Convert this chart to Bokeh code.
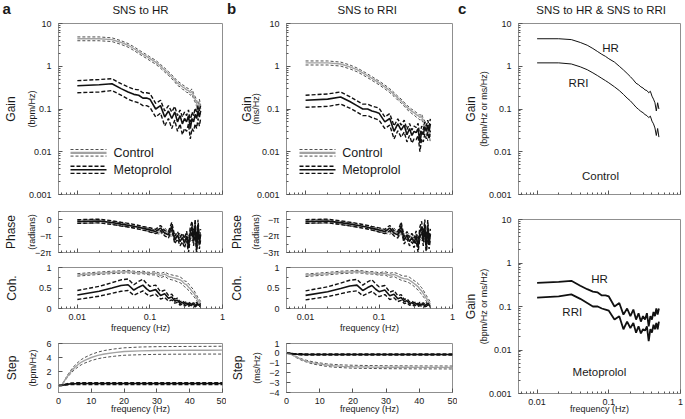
import math
from bokeh.plotting import figure
from bokeh.layouts import row, column
from bokeh.models import (Range1d, FixedTicker, Label, Arrow, ColumnDataSource,
                          LinearAxis)
from bokeh.embed import file_html
from bokeh.resources import INLINE

FONT = "Liberation Sans"
TXT = "#1a1a1a"
FRAME_C = "#8f8f8f"
TICK_C = "#555555"
PI = math.pi

# ---------------- data ----------------
FREQ = [0.01, 0.02, 0.03, 0.04, 0.05, 0.06, 0.07, 0.08, 0.09, 0.10,
        0.12, 0.14, 0.16, 0.18, 0.20, 0.22, 0.24, 0.26, 0.28, 0.30,
        0.32, 0.34, 0.36, 0.38, 0.40, 0.42, 0.44, 0.46, 0.48, 0.50]

HR_GAIN_CTRL = [4.4, 4.4, 4.2, 3.6, 3.1, 2.6, 2.2, 1.9, 1.7, 1.5,
                1.25, 1.0, 0.82, 0.68, 0.57, 0.48, 0.40, 0.37, 0.33, 0.31,
                0.28, 0.27, 0.24, 0.26, 0.20, 0.17, 0.14, 0.09, 0.14, 0.10]
HR_GAIN_CTRL_SE = [0.45, 0.45, 0.42, 0.36, 0.30, 0.26, 0.22, 0.19, 0.17, 0.15,
                   0.13, 0.10, 0.09, 0.07, 0.06, 0.05, 0.045, 0.04, 0.04, 0.035,
                   0.035, 0.03, 0.03, 0.035, 0.03, 0.025, 0.025, 0.02, 0.03, 0.025]
HR_GAIN_META = [0.35, 0.37, 0.39, 0.30, 0.25, 0.22, 0.21, 0.18, 0.18, 0.17,
                0.10, 0.12, 0.065, 0.09, 0.06, 0.085, 0.05, 0.07, 0.045, 0.06,
                0.05, 0.07, 0.035, 0.06, 0.05, 0.075, 0.06, 0.09, 0.065, 0.09]
HR_GAIN_META_SE = [0.11, 0.12, 0.12, 0.09, 0.08, 0.07, 0.07, 0.06, 0.06, 0.06,
                   0.035, 0.04, 0.025, 0.03, 0.025, 0.03, 0.02, 0.025, 0.02, 0.025,
                   0.02, 0.025, 0.015, 0.025, 0.02, 0.03, 0.025, 0.03, 0.025, 0.03]

RRI_GAIN_CTRL = [1.20, 1.20, 1.13, 0.97, 0.83, 0.70, 0.60, 0.52, 0.46, 0.41,
                 0.33, 0.27, 0.22, 0.18, 0.155, 0.13, 0.11, 0.098, 0.088, 0.082,
                 0.074, 0.070, 0.063, 0.068, 0.052, 0.045, 0.036, 0.024, 0.035, 0.022]
RRI_GAIN_CTRL_SE = [0.13, 0.13, 0.12, 0.10, 0.085, 0.07, 0.06, 0.052, 0.046, 0.041,
                    0.034, 0.028, 0.023, 0.019, 0.016, 0.014, 0.012, 0.011, 0.010, 0.010,
                    0.009, 0.009, 0.008, 0.009, 0.008, 0.007, 0.007, 0.006, 0.008, 0.006]
RRI_GAIN_META = [0.16, 0.17, 0.19, 0.15, 0.12, 0.10, 0.10, 0.09, 0.085, 0.08,
                 0.05, 0.06, 0.03, 0.045, 0.032, 0.042, 0.025, 0.035, 0.024, 0.03,
                 0.028, 0.035, 0.016, 0.03, 0.025, 0.038, 0.03, 0.042, 0.03, 0.045]
RRI_GAIN_META_SE = [0.05, 0.055, 0.06, 0.045, 0.035, 0.03, 0.03, 0.027, 0.026, 0.025,
                    0.015, 0.018, 0.010, 0.014, 0.010, 0.013, 0.008, 0.011, 0.008, 0.010,
                    0.009, 0.011, 0.006, 0.010, 0.008, 0.012, 0.010, 0.013, 0.010, 0.014]

HR_PHASE_CTRL = [-0.38, -0.30, -0.62, -0.90, -1.10, -1.30, -1.50, -1.70, -1.85, -2.0,
                 -2.3, -2.5, -1.9, -2.7, -2.9, -3.0, -3.2, -3.0, -3.3, -3.4,
                 -3.2, -3.5, -3.3, -3.6, -3.4, -3.7, -3.3, -3.8, -3.4, -3.6]
HR_PHASE_CTRL_SE = [0.30, 0.32, 0.30, 0.30, 0.30, 0.30, 0.30, 0.30, 0.30, 0.30,
                    0.30, 0.30, 0.35, 0.30, 0.30, 0.35, 0.35, 0.40, 0.35, 0.40,
                    0.40, 0.45, 0.40, 0.45, 0.40, 0.50, 0.45, 0.50, 0.50, 0.50]
HR_PHASE_META = [-0.35, -0.25, -0.55, -0.85, -1.05, -1.25, -1.45, -1.65, -1.8, -1.95,
                 -2.25, -1.6, -2.6, -2.9, -1.2, -3.9, -3.0, -4.2, -3.4, -4.5,
                 -3.1, -5.4, -2.4, -1.3, -4.0, -0.9, -5.8, -1.0, -4.6, -2.8]
HR_PHASE_META_SE = [0.35, 0.35, 0.35, 0.35, 0.35, 0.35, 0.35, 0.35, 0.35, 0.40,
                    0.40, 0.50, 0.50, 0.60, 0.70, 0.70, 0.70, 0.80, 0.80, 0.90,
                    0.90, 0.90, 1.00, 1.00, 1.00, 1.00, 0.90, 1.00, 1.00, 1.00]

RRI_PHASE_CTRL = [-3.52, -3.45, -3.78, -4.02, -4.25, -4.42, -4.62, -4.85, -5.0, -5.12,
                  -5.45, -5.62, -5.08, -5.85, -6.02, -6.12, -6.35, -6.18, -6.42, -6.55,
                  -6.32, -6.68, -6.45, -6.72, -6.58, -6.85, -6.45, -6.95, -6.52, -6.78]
RRI_PHASE_CTRL_SE = [0.30, 0.32, 0.30, 0.30, 0.30, 0.30, 0.30, 0.30, 0.30, 0.30,
                     0.30, 0.32, 0.35, 0.32, 0.30, 0.35, 0.38, 0.40, 0.38, 0.42,
                     0.40, 0.45, 0.42, 0.45, 0.42, 0.50, 0.45, 0.50, 0.48, 0.50]
RRI_PHASE_META = [-3.48, -3.38, -3.70, -3.98, -4.20, -4.40, -4.58, -4.80, -4.95, -5.10,
                  -5.40, -4.75, -5.75, -6.05, -4.30, -7.10, -6.10, -7.35, -6.55, -7.60,
                  -6.20, -8.50, -5.50, -4.45, -7.15, -4.10, -8.90, -4.20, -7.75, -5.90]
RRI_PHASE_META_SE = [0.35, 0.35, 0.35, 0.35, 0.35, 0.35, 0.35, 0.35, 0.35, 0.40,
                     0.40, 0.50, 0.50, 0.60, 0.70, 0.70, 0.70, 0.80, 0.80, 0.90,
                     0.90, 0.90, 1.00, 1.00, 1.00, 1.00, 0.90, 1.00, 1.00, 1.00]

HR_COH_CTRL = [0.82, 0.86, 0.88, 0.89, 0.90, 0.88, 0.87, 0.88, 0.86, 0.85,
               0.86, 0.80, 0.84, 0.78, 0.76, 0.74, 0.72, 0.70, 0.66, 0.60,
               0.58, 0.52, 0.48, 0.42, 0.38, 0.32, 0.26, 0.20, 0.16, 0.12]
HR_COH_CTRL_SE = [0.03, 0.03, 0.03, 0.03, 0.03, 0.03, 0.03, 0.03, 0.03, 0.03,
                  0.04, 0.05, 0.05, 0.06, 0.06, 0.06, 0.07, 0.07, 0.07, 0.07,
                  0.08, 0.08, 0.08, 0.08, 0.08, 0.07, 0.07, 0.06, 0.06, 0.05]
HR_COH_META = [0.33, 0.42, 0.50, 0.56, 0.58, 0.45, 0.52, 0.57, 0.48, 0.42,
               0.46, 0.32, 0.36, 0.25, 0.28, 0.18, 0.20, 0.12, 0.15, 0.10,
               0.13, 0.08, 0.12, 0.09, 0.10, 0.07, 0.11, 0.08, 0.10, 0.07]
HR_COH_META_SE = [0.11, 0.12, 0.13, 0.14, 0.14, 0.13, 0.14, 0.14, 0.13, 0.12,
                  0.11, 0.09, 0.09, 0.07, 0.07, 0.05, 0.05, 0.04, 0.04, 0.04,
                  0.04, 0.03, 0.04, 0.03, 0.04, 0.03, 0.04, 0.03, 0.04, 0.03]

RRI_COH_CTRL = [0.81, 0.85, 0.88, 0.89, 0.90, 0.89, 0.87, 0.87, 0.86, 0.84,
                0.86, 0.81, 0.83, 0.79, 0.75, 0.73, 0.72, 0.69, 0.65, 0.61,
                0.57, 0.53, 0.47, 0.43, 0.37, 0.31, 0.25, 0.20, 0.15, 0.11]
RRI_COH_CTRL_SE = [0.03, 0.03, 0.03, 0.03, 0.03, 0.03, 0.03, 0.03, 0.03, 0.03,
                   0.04, 0.05, 0.05, 0.06, 0.06, 0.06, 0.07, 0.07, 0.07, 0.07,
                   0.08, 0.08, 0.08, 0.08, 0.08, 0.07, 0.07, 0.06, 0.06, 0.05]
RRI_COH_META = [0.32, 0.41, 0.49, 0.55, 0.57, 0.44, 0.51, 0.56, 0.47, 0.41,
                0.45, 0.31, 0.35, 0.24, 0.27, 0.17, 0.19, 0.12, 0.14, 0.10,
                0.12, 0.08, 0.11, 0.09, 0.10, 0.07, 0.10, 0.08, 0.09, 0.07]
RRI_COH_META_SE = [0.11, 0.12, 0.13, 0.14, 0.14, 0.13, 0.14, 0.14, 0.13, 0.12,
                   0.11, 0.09, 0.09, 0.07, 0.07, 0.05, 0.05, 0.04, 0.04, 0.04,
                   0.04, 0.03, 0.04, 0.03, 0.04, 0.03, 0.04, 0.03, 0.04, 0.03]

STEP_T = [0, 1, 2, 3, 4, 5, 6, 7, 8, 10, 12, 14, 17, 20, 25, 30, 35, 40, 45, 50]
HR_STEP_CTRL = [0, 0.05, 0.8, 1.5, 2.1, 2.6, 3.0, 3.35, 3.6, 4.0,
                4.3, 4.5, 4.7, 4.85, 4.95, 5.0, 5.02, 5.03, 5.04, 5.05]
HR_STEP_CTRL_SE = [0, 0.01, 0.09, 0.17, 0.23, 0.29, 0.33, 0.37, 0.40, 0.44,
                   0.47, 0.50, 0.52, 0.53, 0.55, 0.55, 0.55, 0.55, 0.55, 0.56]
HR_STEP_META = [0, 0.02, 0.12, 0.20, 0.24, 0.26, 0.27, 0.28, 0.28, 0.28,
                0.28, 0.28, 0.28, 0.28, 0.28, 0.28, 0.28, 0.28, 0.28, 0.28]
HR_STEP_META_SE = [0, 0.01, 0.05, 0.09, 0.11, 0.12, 0.13, 0.13, 0.13, 0.13,
                   0.13, 0.13, 0.13, 0.13, 0.13, 0.13, 0.13, 0.13, 0.13, 0.13]
RRI_STEP_CTRL = [0, -0.02, -0.20, -0.40, -0.55, -0.70, -0.80, -0.90, -0.98, -1.10,
                 -1.20, -1.27, -1.33, -1.37, -1.40, -1.42, -1.43, -1.44, -1.44, -1.45]
RRI_STEP_CTRL_SE = [0, 0.01, 0.03, 0.05, 0.07, 0.08, 0.09, 0.10, 0.11, 0.12,
                    0.13, 0.14, 0.14, 0.15, 0.15, 0.15, 0.15, 0.15, 0.15, 0.15]
RRI_STEP_META = [0, -0.01, -0.05, -0.08, -0.10, -0.11, -0.12, -0.12, -0.12, -0.12,
                 -0.12, -0.12, -0.12, -0.12, -0.12, -0.12, -0.12, -0.12, -0.12, -0.12]
RRI_STEP_META_SE = [0, 0.01, 0.03, 0.05, 0.06, 0.06, 0.06, 0.06, 0.06, 0.06,
                    0.06, 0.06, 0.06, 0.06, 0.06, 0.06, 0.06, 0.06, 0.06, 0.06]

GAIN_TICKS = [0.001, 0.01, 0.1, 1, 10]
GAIN_TICK_LABELS = ["0.001", "0.01", "0.1", "1", "10"]
GAIN_MINOR = [m * 10.0 ** e for e in range(-3, 1) for m in range(2, 10)]
FREQ_TICKS = [0.01, 0.1, 1]
FREQ_TICK_LABELS = ["0.01", "0.1", "1"]
FREQ_MINOR = [m * 10.0 ** e for e in (-3, -2, -1) for m in range(2, 10)]
STEP_X_TICKS = [0, 10, 20, 30, 40, 50]

XR = (0.0055, 1.0)

# ---------------- styles / layout constants ----------------
CTRL_MEAN = dict(line_color="#a3a3a3", line_width=1.4)
CTRL_BAND = dict(line_color="#222222", line_width=0.8, line_dash="3 2")
META_MEAN = dict(line_color="#111111", line_width=1.6)
META_BAND = dict(line_color="#111111", line_width=1.4, line_dash="4 2")
Y_STANDOFF = 7
X_STANDOFF = 5
PAD = 3                        # Bokeh's padding after each label block
H_UNIT, H_MAIN = 9.6, 12.8     # approx. text box heights of 9px / 12px labels


def base(w, h, bl, br, bt, bb, xr, yr, xlog, ylog):
    p = figure(width=w, height=h, x_range=Range1d(*xr), y_range=Range1d(*yr),
               x_axis_type="log" if xlog else "linear",
               y_axis_type="log" if ylog else "linear",
               output_backend="svg", toolbar_location=None, title=None,
               min_border_left=bl, min_border_right=br,
               min_border_top=bt, min_border_bottom=bb)
    p.xgrid.visible = False
    p.ygrid.visible = False
    p.outline_line_color = FRAME_C
    p.background_fill_color = "white"
    p.border_fill_color = "white"
    for ax in (p.xaxis[0], p.yaxis[0]):
        ax.axis_line_color = FRAME_C
        ax.major_tick_in = 4
        ax.major_tick_out = 0
        ax.minor_tick_in = 2
        ax.minor_tick_out = 0
        ax.major_tick_line_color = TICK_C
        ax.minor_tick_line_color = TICK_C
        ax.major_label_text_font = FONT
        ax.major_label_text_font_size = "9px"
        ax.major_label_text_color = TXT
        ax.axis_label_text_font = FONT
        ax.axis_label_text_font_size = "9px"
        ax.axis_label_text_font_style = "normal"
        ax.axis_label_text_color = TXT
    p.yaxis[0].major_label_standoff = Y_STANDOFF
    p.xaxis[0].major_label_standoff = X_STANDOFF
    return p


def header(w, h, items):
    p = figure(width=w, height=h, x_range=Range1d(0, w), y_range=Range1d(0, h),
               x_axis_location=None, y_axis_location=None, title=None,
               output_backend="svg", toolbar_location=None, min_border=0,
               frame_align=False)
    p.outline_line_color = None
    p.grid.visible = False
    p.background_fill_color = "white"
    p.border_fill_color = "white"
    for (x, y, text, size, align, bold) in items:
        p.add_layout(Label(x=x, y=h - y, x_units="screen", y_units="screen",
                           text=text, text_font=FONT, text_font_size=size,
                           text_color=TXT, text_align=align, text_baseline="middle",
                           text_font_style="bold" if bold else "normal"))
    return p


def set_ticks(ax, ticks, labels, minor=()):
    ax.ticker = FixedTicker(ticks=list(ticks), minor_ticks=list(minor))
    ax.major_label_overrides = {t: l for t, l in zip(ticks, labels)}


def freq_axis(p, labels=True, label_standoff=0):
    if labels:
        set_ticks(p.xaxis[0], FREQ_TICKS, FREQ_TICK_LABELS, FREQ_MINOR)
        p.xaxis[0].axis_label = "frequency (Hz)"
        p.xaxis[0].axis_label_standoff = label_standoff
    else:
        set_ticks(p.xaxis[0], FREQ_TICKS, ["", "", ""], FREQ_MINOR)
        p.xaxis[0].major_label_standoff = 0
        p.xaxis[0].major_label_text_font_size = "1px"


def label_axis(p, text, size_px, standoff, shift_px, frame_h, yr, ylog):
    lo, hi = (math.log10(yr[0]), math.log10(yr[1])) if ylog else yr
    c = (lo + hi) / 2 + shift_px / frame_h * (hi - lo)
    d = 0.2 * (hi - lo)
    b = (c - d, c + d)
    if ylog:
        b = (10 ** b[0], 10 ** b[1])
    ax = LinearAxis(ticker=FixedTicker(ticks=[]), axis_line_color=None,
                    major_tick_in=0, major_tick_out=0, minor_tick_in=0,
                    minor_tick_out=0, major_label_standoff=0, axis_label=text,
                    axis_label_text_font=FONT,
                    axis_label_text_font_size=f"{size_px}px",
                    axis_label_text_font_style="normal",
                    axis_label_text_color=TXT,
                    axis_label_standoff=int(round(standoff)), bounds=b)
    p.add_layout(ax, "left")


def ylabels(p, main, unit, tick_w, d_main, d_unit, sh_main, sh_unit, frame_h, yr, ylog):
    inner = Y_STANDOFF + tick_w + PAD
    if unit:
        s_u = d_unit - inner - H_UNIT / 2
        label_axis(p, unit, 9, s_u, sh_unit, frame_h, yr, ylog)
        s_m = d_main - d_unit - H_UNIT / 2 - PAD - H_MAIN / 2
    else:
        s_m = d_main - inner - H_MAIN / 2
    label_axis(p, main, 12, s_m, sh_main, frame_h, yr, ylog)


def band(p, x, mean, se, mean_style, band_style):
    src = ColumnDataSource(dict(x=x, m=mean,
                                hi=[a + b for a, b in zip(mean, se)],
                                lo=[a - b for a, b in zip(mean, se)]))
    p.line("x", "hi", source=src, **band_style)
    p.line("x", "lo", source=src, **band_style)
    p.line("x", "m", source=src, **mean_style)


def txt(p, x, y, text, size="12px", units="screen", align="center"):
    p.add_layout(Label(x=x, y=y, x_units=units, y_units=units, text=text,
                       text_font=FONT, text_font_size=size, text_color=TXT,
                       text_align=align, text_baseline="middle"))


def seg(p, x0, x1, y, style):
    p.add_layout(Arrow(end=None, x_start=x0, y_start=y, x_end=x1, y_end=y,
                       start_units="screen", end_units="screen", **style))


def legend(p, x0, x1, xt):
    seg(p, x0, x1, 45.0, CTRL_BAND)
    seg(p, x0, x1, 41.6, dict(line_color="#a3a3a3", line_width=2.2))
    seg(p, x0, x1, 38.4, CTRL_BAND)
    txt(p, xt, 41.5, "Control", "12.5px", align="left")
    seg(p, x0, x1, 28.3, META_BAND)
    seg(p, x0, x1, 24.7, META_MEAN)
    seg(p, x0, x1, 21.1, META_BAND)
    txt(p, xt, 25.0, "Metoprolol", "12.5px", align="left")


def make_column(width, bl, br, head_items, d):
    hd = header(width, 17, head_items)
    g_yr, p_yr, c_yr, s_yr = (0.001, 10), d["prange"], (0, 1), d["srange"]
    # gain  (frame 23..194)
    g = base(width, 188, bl, br, 6, 11, XR, g_yr, True, True)
    set_ticks(g.yaxis[0], GAIN_TICKS, GAIN_TICK_LABELS, GAIN_MINOR)
    freq_axis(g, labels=False)
    band(g, FREQ, d["gc"], d["gcs"], CTRL_MEAN, CTRL_BAND)
    band(g, FREQ, d["gm"], d["gms"], META_MEAN, META_BAND)
    legend(g, *d["leg"])
    ylabels(g, "Gain", d["unit"], 22.5, d["dg"], d["dug"], 2.7, -1, 171, g_yr, True)
    # phase  (frame 211..252)
    ph = base(width, 57, bl, br, 6, 10, XR, p_yr, True, False)
    set_ticks(ph.yaxis[0], d["pticks"], d["plabels"], d["pminor"])
    freq_axis(ph, labels=False)
    band(ph, FREQ, d["pc"], d["pcs"], CTRL_MEAN, CTRL_BAND)
    band(ph, FREQ, d["pm"], d["pms"], META_MEAN, META_BAND)
    ylabels(ph, "Phase", "(radians)", 15.2, d["do"], d["du"], 6, 6, 41, p_yr, False)
    # coherence  (frame 267..308)
    co = base(width, 76, bl, br, 5, 30, XR, c_yr, True, False)
    set_ticks(co.yaxis[0], [0, 0.5, 1], ["0", "0.5", "1"], [0.25, 0.75])
    freq_axis(co, labels=True, label_standoff=0)
    band(co, FREQ, d["cc"], d["ccs"], CTRL_MEAN, CTRL_BAND)
    band(co, FREQ, d["cm"], d["cms"], META_MEAN, META_BAND)
    ylabels(co, "Coh.", None, 12.5, d["do"], 0, 7, 0, 41, c_yr, False)
    # step  (frame 343..392)
    st = base(width, 81, bl, br, 5, 27, (0, 50), s_yr, False, False)
    set_ticks(st.yaxis[0], d["sticks"], d["slabels"])
    set_ticks(st.xaxis[0], STEP_X_TICKS, [str(v) for v in STEP_X_TICKS])
    st.xaxis[0].axis_label = "frequency (Hz)"
    st.xaxis[0].axis_label_standoff = -3
    band(st, STEP_T, d["sc"], d["scs"], CTRL_MEAN, CTRL_BAND)
    band(st, STEP_T, d["sm"], d["sms"], META_MEAN, META_BAND)
    ylabels(st, "Step", d["unit"], d["sw"], d["do"], d["du"], 5.6, 5.6, 49, s_yr, False)
    return column(hd, g, ph, co, st)


col_a = make_column(
    226, 57, 4,
    [(2, 7.5, "a", "15px", "left", True), (140, 9.5, "SNS to HR", "11.5px", "center", False)],
    dict(gc=HR_GAIN_CTRL, gcs=HR_GAIN_CTRL_SE, gm=HR_GAIN_META, gms=HR_GAIN_META_SE,
         pc=HR_PHASE_CTRL, pcs=HR_PHASE_CTRL_SE, pm=HR_PHASE_META, pms=HR_PHASE_META_SE,
         cc=HR_COH_CTRL, ccs=HR_COH_CTRL_SE, cm=HR_COH_META, cms=HR_COH_META_SE,
         sc=HR_STEP_CTRL, scs=HR_STEP_CTRL_SE, sm=HR_STEP_META, sms=HR_STEP_META_SE,
         prange=(-2 * PI, PI / 2), pticks=[0, -PI, -2 * PI],
         plabels=["0", "\u2212\u03c0", "\u22122\u03c0"],
         pminor=[PI / 2, -PI / 2, -1.5 * PI],
         srange=(-1, 6), sticks=[0, 2, 4, 6], slabels=["0", "2", "4", "6"], sw=5.0,
         unit="(bpm/Hz)", leg=(12, 48, 55),
         dg=46.5, dug=26.2, do=46.0, du=26.0))

col_b = make_column(
    231, 60, 5,
    [(0.5, 7.5, "b", "15px", "left", True), (140.7, 9.5, "SNS to RRI", "11.5px", "center", False)],
    dict(gc=RRI_GAIN_CTRL, gcs=RRI_GAIN_CTRL_SE, gm=RRI_GAIN_META, gms=RRI_GAIN_META_SE,
         pc=RRI_PHASE_CTRL, pcs=RRI_PHASE_CTRL_SE, pm=RRI_PHASE_META, pms=RRI_PHASE_META_SE,
         cc=RRI_COH_CTRL, ccs=RRI_COH_CTRL_SE, cm=RRI_COH_META, cms=RRI_COH_META_SE,
         sc=RRI_STEP_CTRL, scs=RRI_STEP_CTRL_SE, sm=RRI_STEP_META, sms=RRI_STEP_META_SE,
         prange=(-3 * PI, -PI / 2), pticks=[-PI, -2 * PI, -3 * PI],
         plabels=["\u2212\u03c0", "\u22122\u03c0", "\u22123\u03c0"],
         pminor=[-PI / 2, -1.5 * PI, -2.5 * PI],
         srange=(-4, 1), sticks=[1, 0, -1, -2, -3, -4],
         slabels=["1", "0", "\u22121", "\u22122", "\u22123", "\u22124"], sw=10.3,
         unit="(ms/Hz)", leg=(13, 49, 55.7),
         dg=38.5, dug=30.0, do=48.5, du=30.2))

# ---------------- column c ----------------
CW, CBL, CBR = 228, 61, 5
hc = header(CW, 17, [(0.5, 7.5, "c", "15px", "left", True),
                     (143.7, 9.5, "SNS to HR & SNS to RRI", "11.5px", "center", False)])
c1 = base(CW, 188, CBL, CBR, 6, 11, XR, (0.001, 10), True, True)
set_ticks(c1.yaxis[0], GAIN_TICKS, GAIN_TICK_LABELS, GAIN_MINOR)
freq_axis(c1, labels=False)
c1.line(FREQ, HR_GAIN_CTRL, line_color="#111111", line_width=1.0)
c1.line(FREQ, RRI_GAIN_CTRL, line_color="#111111", line_width=1.0)
txt(c1, 0.106, 2.7, "HR", "11.5px", units="data")
txt(c1, 0.0378, 0.41, "RRI", "11.5px", units="data")
txt(c1, 0.0766, 0.00268, "Control", "11.5px", units="data")
ylabels(c1, "Gain", "(bpm/Hz or ms/Hz)", 22.5, 46.3, 34.3, 10, -3, 171, (0.001, 10), True)

c2 = base(CW, 214, CBL, CBR, 14, 26, XR, (0.001, 10), True, True)
set_ticks(c2.yaxis[0], GAIN_TICKS, GAIN_TICK_LABELS, GAIN_MINOR)
freq_axis(c2, labels=True, label_standoff=-4)
c2.line(FREQ, HR_GAIN_META, line_color="#111111", line_width=1.8)
c2.line(FREQ, RRI_GAIN_META, line_color="#111111", line_width=1.8)
txt(c2, 0.074, 0.435, "HR", "11.5px", units="data")
txt(c2, 0.0309, 0.074, "RRI", "11.5px", units="data")
txt(c2, 0.074, 0.00305, "Metoprolol", "11.5px", units="data")
ylabels(c2, "Gain", "(bpm/Hz or ms/Hz)", 22.5, 46.3, 34.3, 6, 0, 174, (0.001, 10), True)

col_c = column(hc, c1, c2)

layout = row(col_a, col_b, col_c)
open("out.html", "w").write(file_html(layout, INLINE))
